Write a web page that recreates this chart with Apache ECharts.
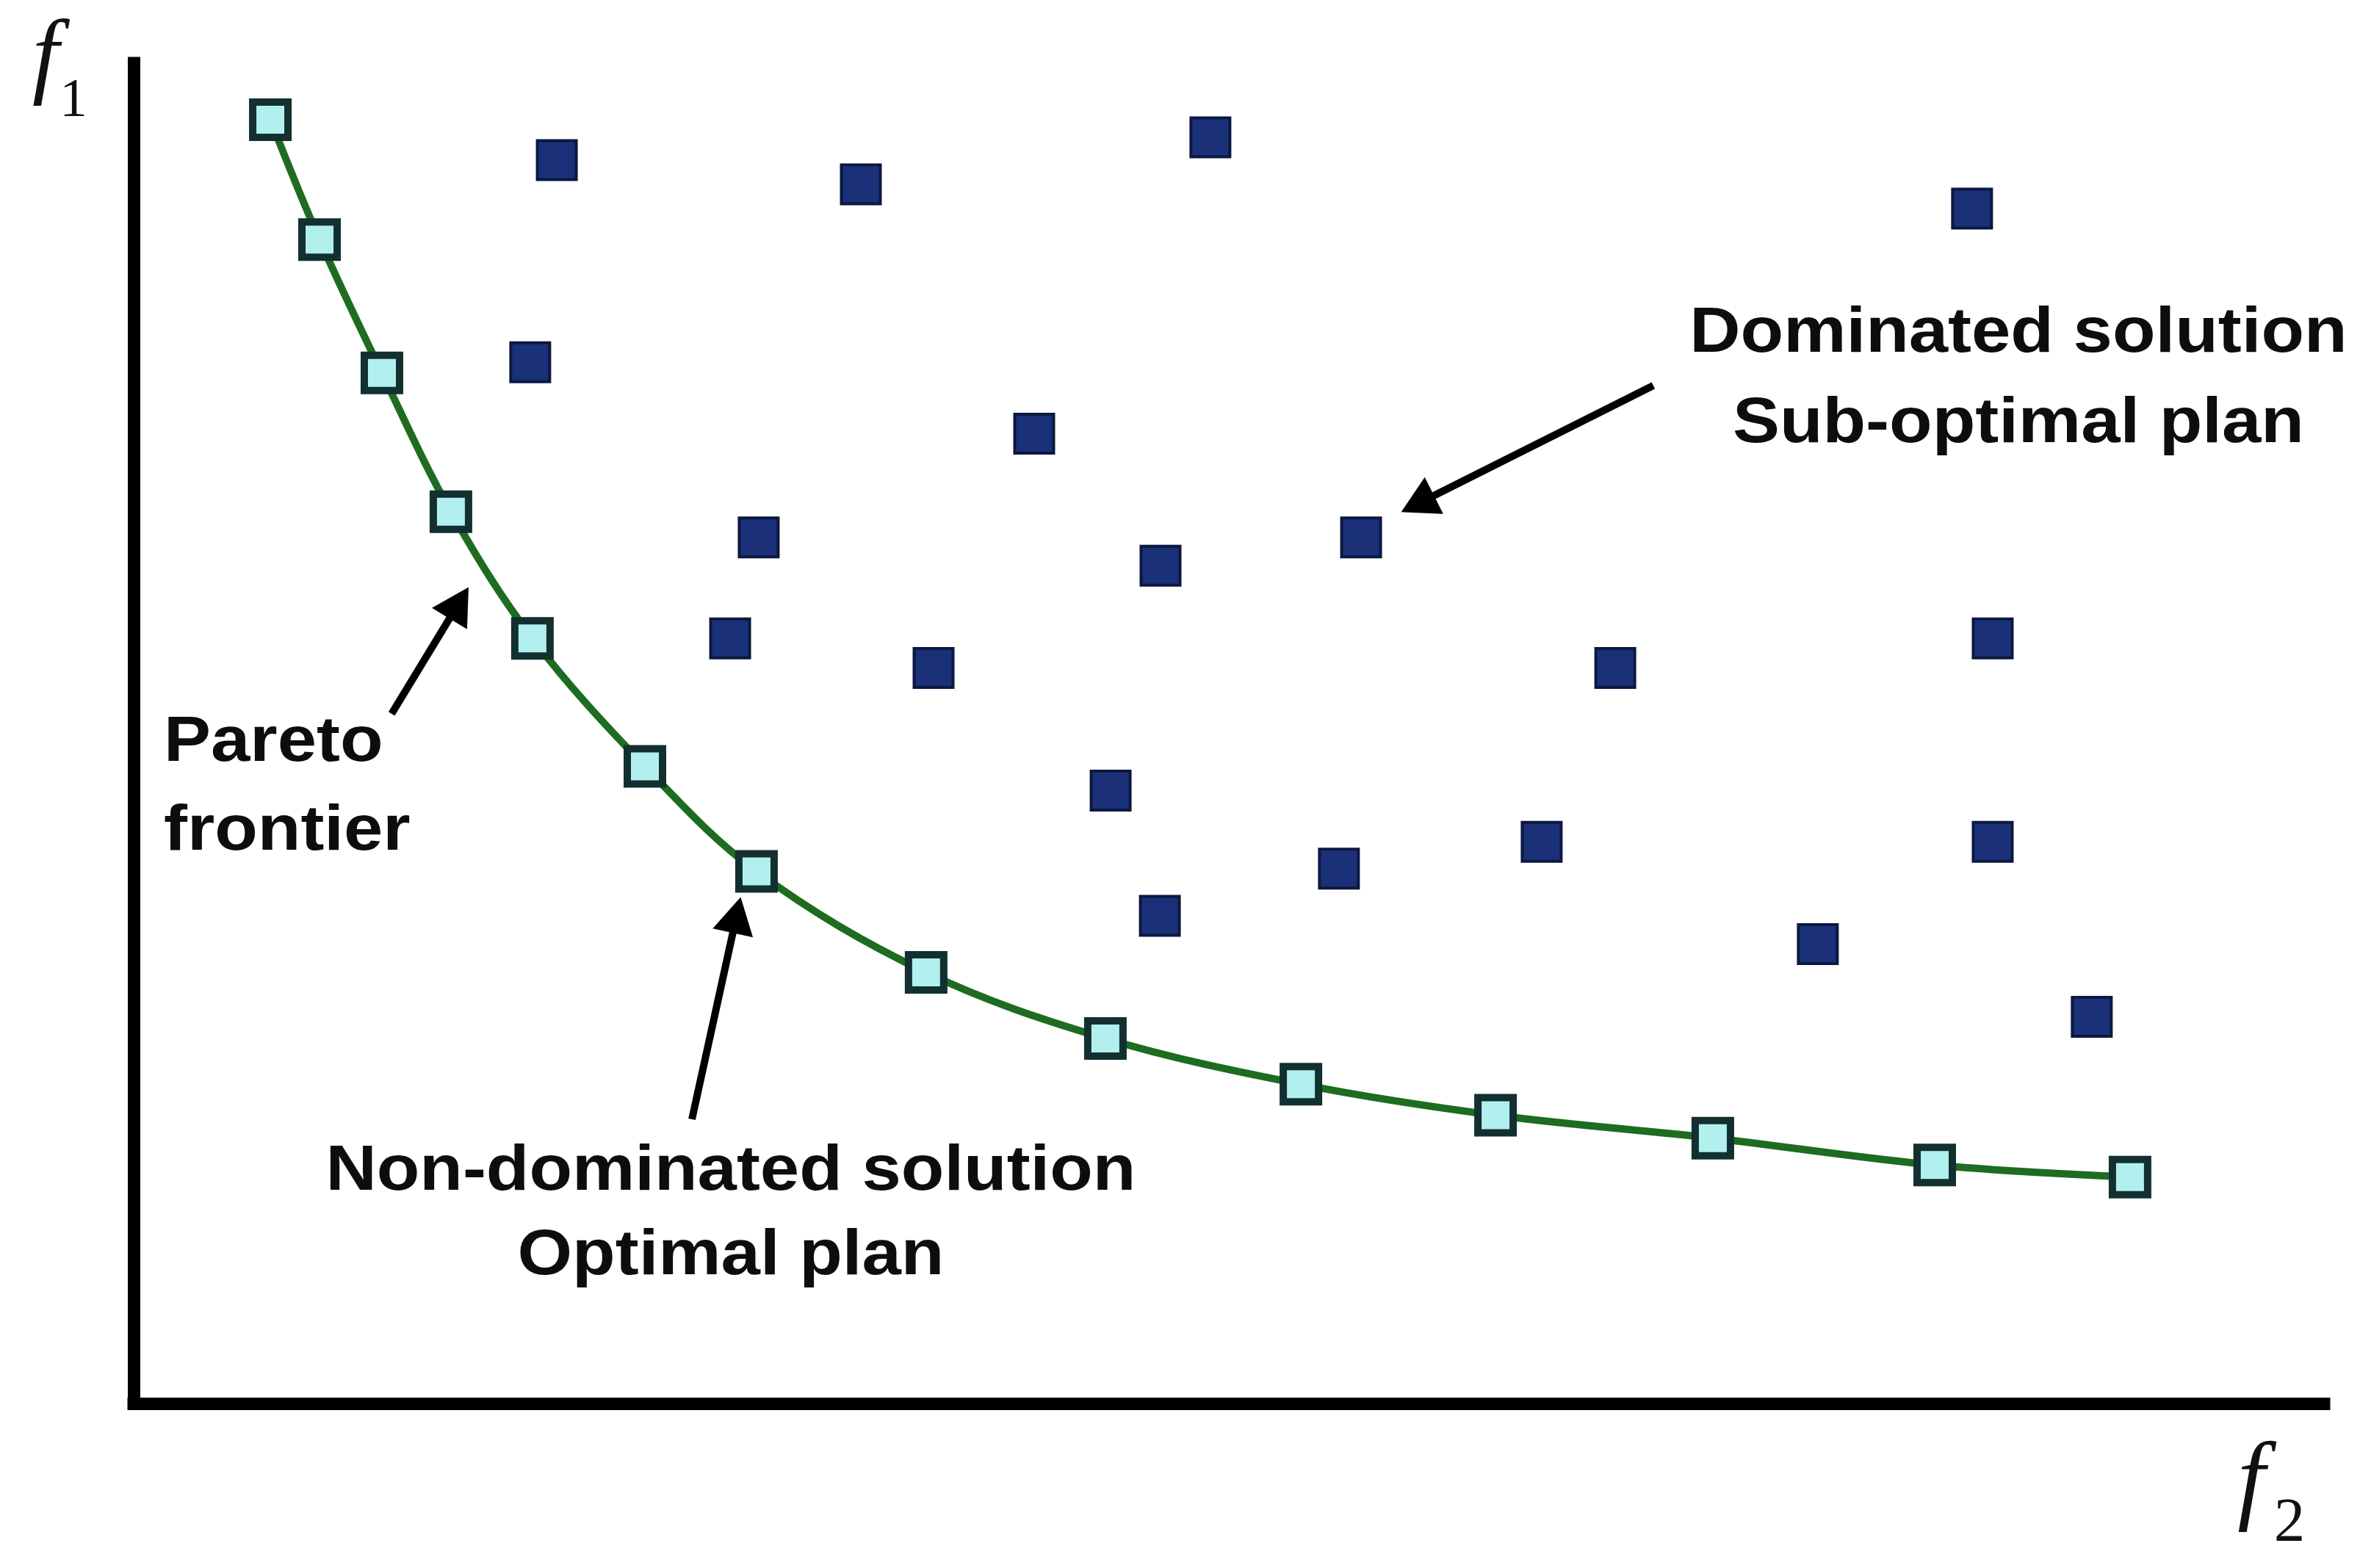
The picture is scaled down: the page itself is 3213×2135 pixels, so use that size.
<!DOCTYPE html>
<html>
<head>
<meta charset="utf-8">
<title>Pareto frontier</title>
<script src="https://cdn.jsdelivr.net/npm/echarts@6/dist/echarts.min.js"></script>
<style>
html, body { margin: 0; padding: 0; background: #fff; }
#main { width: 3213px; height: 2135px; }
</style>
</head>
<body>
<div id="main"></div>
<script>
// non-dominated solutions (Pareto frontier), f2 along x, f1 along y
var paretoF2 = [6.22, 8.46, 11.30, 14.44, 18.15, 23.27, 28.35, 36.07, 44.23, 53.13, 61.99, 71.88, 81.98, 90.87];
var paretoF1 = [95.3, 86.4, 76.5, 66.2, 56.8, 47.3, 39.5, 32.0, 27.1, 23.7, 21.4, 19.7, 17.7, 16.8];

// dominated solutions
var dominatedF2 = [19.26, 33.10, 49.01, 83.68, 18.05, 40.99, 28.45, 46.74, 55.87, 27.15,
                   36.41, 67.44, 84.62, 44.47, 64.09, 84.62, 54.86, 46.71, 76.66, 89.13];
var dominatedF1 = [92.3, 90.5, 94.0, 88.7, 77.3, 72.0, 64.3, 62.2, 64.3, 56.8,
                   54.6, 54.6, 56.8, 45.5, 41.7, 41.7, 39.7, 36.2, 34.1, 28.7];

// annotation arrows (tail -> centre of arrow head)
var arrowFrom = [[69.17, 75.57], [11.74, 51.2], [25.41, 21.1]];
var arrowTo = [[58.44, 66.79], [14.81, 59.43], [27.45, 36.26]];

// annotation texts
var noteText = ['Dominated solution', 'Sub-optimal plan', 'Pareto', 'frontier', 'Non-dominated solution', 'Optimal plan'];
var noteF2 = [85.79, 85.79, 1.37, 1.37, 27.18, 27.18];
var noteF1 = [79.39, 72.68, 49.02, 42.42, 17.18, 10.9];
var noteAlign = ['center', 'center', 'left', 'left', 'center', 'center'];

var chart = echarts.init(document.getElementById('main'));

var pareto = paretoF2.map(function (x, i) { return [x, paretoF1[i]]; });
var dominated = dominatedF2.map(function (x, i) { return [x, dominatedF1[i]]; });
var arrows = arrowFrom.map(function (p, i) {
    return [
        { coord: p, symbol: 'none' },
        { coord: arrowTo[i], symbol: 'triangle', symbolSize: [56, 50] }
    ];
});

var axisLine = {
    show: true,
    onZero: false,
    lineStyle: { color: '#000', width: 17, cap: 'square' }
};

var option = {
    backgroundColor: '#fff',
    animation: false,
    grid: { left: 182, right: 49, top: 86, bottom: 224 },
    xAxis: {
        type: 'value', min: 0, max: 99.7,
        axisLine: axisLine, axisTick: { show: false }, axisLabel: { show: false }, splitLine: { show: false }
    },
    yAxis: {
        type: 'value', min: 0, max: 99.5,
        axisLine: axisLine, axisTick: { show: false }, axisLabel: { show: false }, splitLine: { show: false }
    },
    series: [
        {
            name: 'Dominated',
            type: 'scatter',
            data: dominated,
            symbol: 'rect',
            symbolSize: 53,
            itemStyle: { color: '#1a3079', borderColor: '#0c1840', borderWidth: 4, opacity: 1 },
            markLine: {
                silent: true,
                symbol: ['none', 'triangle'],
                label: { show: false },
                lineStyle: { color: '#000', width: 10, type: 'solid' },
                itemStyle: { color: '#000' },
                data: arrows
            },
            z: 3
        },
        {
            name: 'Pareto',
            type: 'line',
            data: pareto,
            smooth: 0.35,
            symbol: 'rect',
            symbolSize: 48,
            showSymbol: true,
            lineStyle: { color: '#1d6c20', width: 10 },
            itemStyle: { color: '#b2f0f0', borderColor: '#12302f', borderWidth: 10 },
            z: 4
        }
    ]
};
chart.setOption(option);

// texts placed through the grid's coordinate system
var notes = noteText.map(function (t, i) {
    var p = chart.convertToPixel({ gridIndex: 0 }, [noteF2[i], noteF1[i]]);
    return {
        type: 'text',
        x: p[0], y: p[1],
        scaleX: 1.09,
        z: 10,
        style: {
            text: t,
            fontSize: 88,
            fontWeight: 'bold',
            fontFamily: '"Liberation Sans", Arial, sans-serif',
            fill: '#0d0d0d',
            align: noteAlign[i],
            verticalAlign: 'middle'
        }
    };
});

var serif = '"Liberation Serif", "Times New Roman", serif';
var axisNames = [
    { type: 'text', x: 62, y: 82, style: { text: 'f', fontSize: 130, fontStyle: 'italic', fontFamily: serif, fill: '#111', align: 'center', verticalAlign: 'middle' } },
    { type: 'text', x: 100, y: 138, style: { text: '1', fontSize: 75, fontFamily: serif, fill: '#111', align: 'center', verticalAlign: 'middle' } },
    { type: 'text', x: 3065, y: 2022, style: { text: 'f', fontSize: 135, fontStyle: 'italic', fontFamily: serif, fill: '#111', align: 'center', verticalAlign: 'middle' } },
    { type: 'text', x: 3117, y: 2076, style: { text: '2', fontSize: 85, fontFamily: serif, fill: '#111', align: 'center', verticalAlign: 'middle' } }
];

chart.setOption({ graphic: notes.concat(axisNames) });
</script>
</body>
</html>
